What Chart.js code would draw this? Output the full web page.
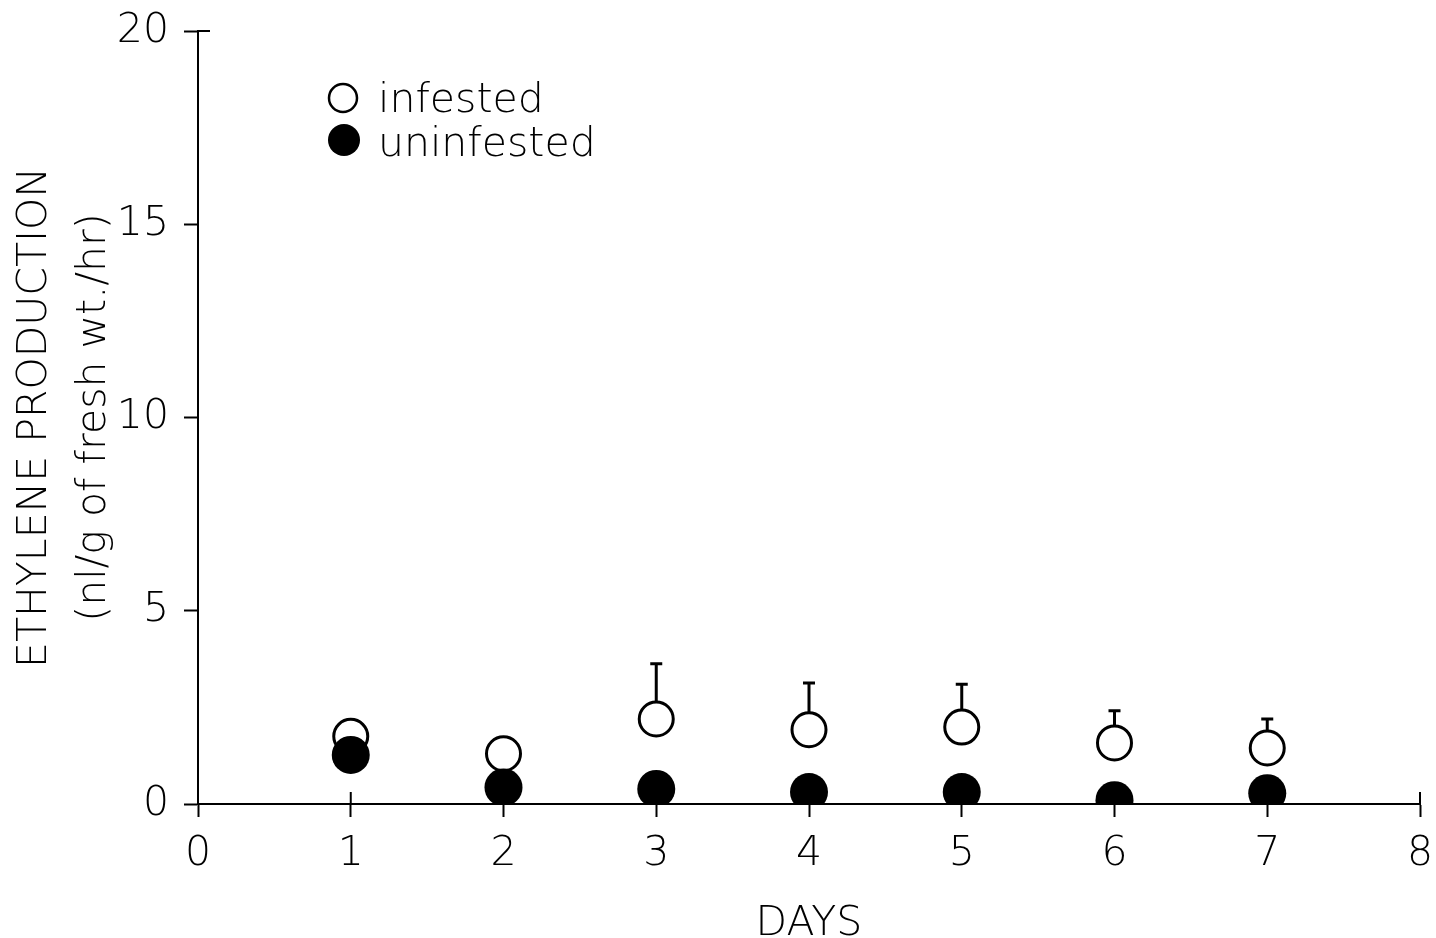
<!DOCTYPE html>
<html>
<head>
<meta charset="utf-8">
<script src="https://cdn.jsdelivr.net/npm/chart.js@4.4.1/dist/chart.umd.min.js"></script>
<style>
  html, body { margin: 0; padding: 0; background: #fff; }
  #wrap { width: 1436px; height: 938px; }
</style>
</head>
<body>
<div id="wrap"><canvas id="c" width="1436" height="938"></canvas></div>
<script>
// Ethylene production of fruit over seven days
const days = [1, 2, 3, 4, 5, 6, 7];
const infested = [1.75, 1.30, 2.20, 1.92, 1.99, 1.58, 1.45];
const infestedErr = [0, 0, 1.43, 1.21, 1.11, 0.83, 0.75];
const uninfested = [1.27, 0.43, 0.39, 0.31, 0.31, 0.10, 0.28];
const xTicks = [0, 1, 2, 3, 4, 5, 6, 7, 8];
const yTicks = [0, 5, 10, 15, 20];
const seriesNames = ['infested', 'uninfested'];

const FONT = "'DejaVu Sans', sans-serif";
const WEIGHT = 300;
const INK = '#000';

// upper error bars, drawn beneath the markers
const errorBars = {
  id: 'errorBars',
  beforeDatasetsDraw(chart) {
    const { ctx, scales: { x, y } } = chart;
    ctx.save();
    ctx.strokeStyle = INK;
    ctx.lineWidth = 3;
    days.forEach((d, i) => {
      const e = infestedErr[i];
      if (!e) return;
      const px = x.getPixelForValue(d);
      const y0 = y.getPixelForValue(infested[i]);
      const y1 = y.getPixelForValue(infested[i] + e);
      ctx.beginPath();
      ctx.moveTo(px, y0);
      ctx.lineTo(px, y1);
      ctx.moveTo(px - 6, y1);
      ctx.lineTo(px + 6, y1);
      ctx.stroke();
    });
    ctx.restore();
  }
};

// tick marks that cross into the plot, plus the in-plot legend
const extras = {
  id: 'extras',
  beforeDatasetsDraw(chart) {
    const { ctx, scales: { x, y } } = chart;
    ctx.save();
    ctx.strokeStyle = INK;
    ctx.lineWidth = 2;
    const base = y.getPixelForValue(0);
    xTicks.forEach(v => {
      if (v === 0) return;
      const px = x.getPixelForValue(v);
      ctx.beginPath();
      ctx.moveTo(px, base);
      ctx.lineTo(px, base - 12);
      ctx.stroke();
    });
    const top = y.getPixelForValue(yTicks[yTicks.length - 1]);
    const left = x.getPixelForValue(0);
    ctx.beginPath();
    ctx.moveTo(left, top);
    ctx.lineTo(left + 12, top);
    ctx.stroke();
    ctx.restore();
  },
  afterDraw(chart) {
    const { ctx } = chart;
    ctx.save();
    ctx.font = WEIGHT + ' 41px ' + FONT;
    ctx.fillStyle = INK;
    ctx.textAlign = 'left';
    ctx.textBaseline = 'alphabetic';
    // open marker
    ctx.lineWidth = 2.5;
    ctx.strokeStyle = INK;
    ctx.beginPath();
    ctx.arc(343, 98, 14, 0, Math.PI * 2);
    ctx.stroke();
    ctx.fillText(seriesNames[0], 378, 112);
    // filled marker
    ctx.beginPath();
    ctx.arc(344, 140, 16, 0, Math.PI * 2);
    ctx.fill();
    ctx.fillText(seriesNames[1], 378, 156);
    ctx.restore();
  }
};

new Chart(document.getElementById('c'), {
  type: 'scatter',
  data: {
    datasets: [
      {
        label: seriesNames[0],
        data: days.map((d, i) => ({ x: d, y: infested[i] })),
        pointRadius: 17,
        pointBorderWidth: 3,
        pointBorderColor: INK,
        pointBackgroundColor: '#fff',
        order: 2
      },
      {
        label: seriesNames[1],
        data: days.map((d, i) => ({ x: d, y: uninfested[i] })),
        pointRadius: 19,
        pointBorderWidth: 0,
        pointBorderColor: INK,
        pointBackgroundColor: INK,
        order: 1
      }
    ]
  },
  options: {
    responsive: false,
    animation: false,
    devicePixelRatio: 1,
    layout: { autoPadding: false, padding: { left: 0, right: 16, top: 31, bottom: 0 } },
    plugins: {
      legend: { display: false },
      tooltip: { enabled: false }
    },
    scales: {
      x: {
        type: 'linear',
        min: 0,
        max: 8,
        afterBuildTicks: s => { s.ticks = xTicks.map(v => ({ value: v })); },
        afterFit: s => { s.height = 134; s.paddingLeft = 0; s.paddingRight = 0; },
        border: { display: true, color: INK, width: 2 },
        grid: { drawOnChartArea: false, drawTicks: true, tickLength: 13, tickWidth: 2, tickColor: INK },
        ticks: { color: INK, font: { family: FONT, size: 41, weight: WEIGHT }, padding: 13, maxRotation: 0 },
        title: {
          display: true,
          text: 'DAYS',
          color: INK,
          font: { family: FONT, size: 41, weight: WEIGHT, lineHeight: 1.0 },
          padding: { top: 0, bottom: -7 }
        }
      },
      y: {
        type: 'linear',
        min: 0,
        max: 20,
        afterBuildTicks: s => { s.ticks = yTicks.map(v => ({ value: v })); },
        afterFit: s => { s.width = 198; s.paddingTop = 0; s.paddingBottom = 0; },
        border: { display: true, color: INK, width: 2 },
        grid: { drawOnChartArea: false, drawTicks: true, tickLength: 14, tickWidth: 2, tickColor: INK },
        ticks: { color: INK, font: { family: FONT, size: 41, weight: WEIGHT }, padding: 15 },
        title: {
          display: true,
          text: ['ETHYLENE PRODUCTION', '(nl/g of fresh wt./hr)'],
          color: INK,
          font: { family: FONT, size: 41, weight: WEIGHT, lineHeight: 1.46 },
          padding: { top: 5, bottom: 0 }
        }
      }
    }
  },
  plugins: [errorBars, extras]
});
</script>
</body>
</html>
